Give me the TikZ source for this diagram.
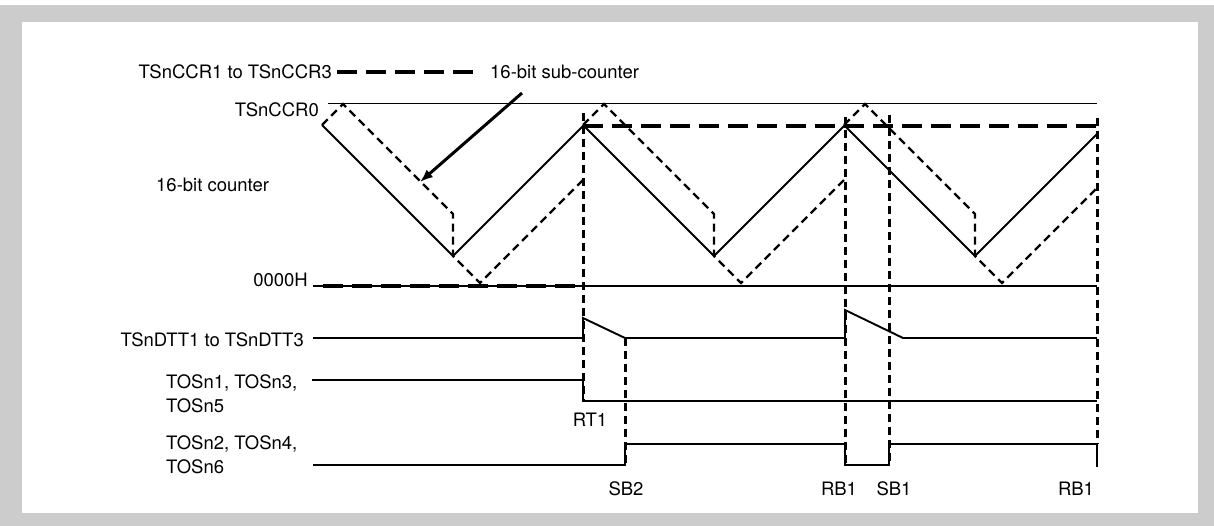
\documentclass[tikz,border=0pt]{standalone}
\usepackage{fontspec}
\setmainfont{TeX Gyre Heros}
\usetikzlibrary{arrows.meta}
\definecolor{framegray}{RGB}{204,204,204}
\tikzset{
  lbl/.style     = {inner sep=0pt, font=\fontsize{18.5}{24}\selectfont},
  refline/.style = {line width=1.3pt},
  cnt/.style     = {line width=1.8pt},
  subcnt/.style  = {line width=2.4pt, dash pattern=on 8pt off 5pt},
  ccr/.style     = {line width=4pt, dash pattern=on 20pt off 9pt},
  evt/.style     = {line width=3pt, dash pattern=on 8pt off 5pt},
  wave/.style    = {line width=1.9pt},
  arr/.style     = {-{Latex[length=13pt, width=10pt]}, line width=3pt},
}

\begin{document}
\begin{tikzpicture}[x=1pt, y=-1pt]
  \useasboundingbox (0,0) rectangle (1214,526);
  % frame
  \fill[framegray] (0,5) rectangle (1214,526);
  \fill[white] (22,22) rectangle (1198,513);

  % labels on the left
  \node[lbl, anchor=east] (ccrlbl) at (332,72) {TSnCCR1 to TSnCCR3};
  \node[lbl, anchor=west] (sublbl) at (490,72) {16-bit sub-counter};
  \node[lbl, anchor=east] (toplbl) at (319,110) {TSnCCR0};
  \node[lbl, anchor=west] (cntlbl) at (156,185) {16-bit counter};
  \node[lbl, anchor=east] (zerolbl) at (308,280) {0000H};
  \node[lbl, anchor=east] (dttlbl) at (304,340) {TSnDTT1 to TSnDTT3};
  \node[lbl, anchor=west, align=left] (tosa) at (166,394) {TOSn1, TOSn3,\\TOSn5};
  \node[lbl, anchor=west, align=left] (tosb) at (166,455) {TOSn2, TOSn4,\\TOSn6};

  % legend and arrow
  \draw[ccr] ([xshift=5pt]ccrlbl.east) -- ([xshift=-8pt]sublbl.west);
  \coordinate (arrbase) at (522,93);
  \coordinate (arrtip) at (420,182);
  \draw[arr] (arrbase) -- (arrtip);

  % reference levels
  \draw[refline] (328,103.5) -- (1097,103.5);
  \draw[refline] (313,286) -- (1097,286);

  % compare registers
  \draw[ccr] (323,286) -- (583,286);
  \draw[ccr] (583,126) -- (1097,126);

  % 16-bit counter
  \draw[cnt] (322,125) -- (453,256) -- (583.5,125.5) -- (714,256)
             -- (844.5,125.5) -- (975,256) -- (1097,134);

  % 16-bit sub-counter
  \foreach \p/\q/\r in {322/583/180, 583/844/180, 844/1097/188}
    \draw[subcnt] (\p,125) -- (\p+21,104) -- (\p+131,214) -- (\p+131,256)
                  -- (\p+158,283) -- (\q,\r);

  % outputs
  \draw[wave] (313,338) -- (583,338) -- (583,318) -- (625,338) -- (845,338)
              -- (845,310) -- (903,338) -- (1097,338);
  \draw[wave] (312,380) -- (583,380) -- (583,401) -- (1097,401);
  \draw[wave] (313,465) -- (625,465) -- (625,444) -- (845,444) -- (845,465)
              -- (889,465) -- (889,444) -- (1097,444) -- (1097,467);

  % event lines
  \foreach \x/\a/\b in {583/113/401, 625/338/464, 845/117/465, 889/115/465, 1097/118/444}
    \draw[evt] (\x,\a) -- (\x,\b);

  \node[lbl] (rt1) at (590,420) {RT1};
  \node[lbl] (sb2) at (626,489) {SB2};
  \node[lbl] (rb1a) at (839,489) {RB1};
  \node[lbl] (sb1) at (894,489) {SB1};
  \node[lbl] (rb1b) at (1076,489) {RB1};
\end{tikzpicture}
\end{document}
